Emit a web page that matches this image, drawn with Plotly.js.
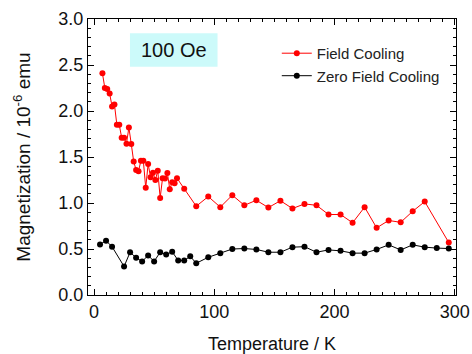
<!DOCTYPE html>
<html>
<head>
<meta charset="utf-8">
<script src="https://cdn.plot.ly/plotly-3.0.1.min.js"></script>
<style>html,body{margin:0;padding:0;background:#fff;}#chart{width:472px;height:354px;}</style>
</head>
<body>
<div id="chart"></div>
<script>
// Field Cooling (FC) data
const fcTemp = [7, 9, 11, 13, 15, 17, 19, 21, 23, 25, 27, 29, 31, 33, 35, 37, 39, 41, 43, 45,
  47, 49, 51, 53, 55, 57, 59, 61, 63, 65, 67, 69, 75, 85, 95, 105, 115, 125, 135, 145,
  155, 165, 175, 185, 195, 205, 215, 225, 235, 245, 255, 265, 275, 295];
const fcMag = [2.41, 2.25, 2.24, 2.19, 2.05, 2.07, 1.85, 1.85, 1.71, 1.71, 1.645, 1.82, 1.64, 1.45, 1.36, 1.345, 1.46, 1.46, 1.165, 1.425,
  1.28, 1.33, 1.25, 1.35, 1.055, 1.27, 1.265, 1.325, 1.15, 1.225, 1.215, 1.27, 1.155, 0.965, 1.07, 0.955, 1.085, 0.975, 1.03, 0.95,
  1.025, 0.94, 0.99, 0.975, 0.875, 0.875, 0.785, 0.955, 0.73, 0.81, 0.79, 0.91, 1.015, 0.57];
// Zero Field Cooling (ZFC) data
const zfcTemp = [5, 10, 15, 25, 30, 35, 40, 45, 50, 55, 60, 65, 70, 75, 80, 85, 95, 105, 115, 125,
  135, 145, 155, 165, 175, 185, 195, 205, 215, 225, 235, 245, 255, 265, 275, 285, 295];
const zfcMag = [0.55, 0.59, 0.525, 0.31, 0.465, 0.405, 0.365, 0.43, 0.365, 0.465, 0.44, 0.47, 0.375, 0.375, 0.42, 0.345, 0.41, 0.455, 0.5, 0.505,
  0.495, 0.465, 0.465, 0.52, 0.525, 0.465, 0.49, 0.48, 0.455, 0.455, 0.495, 0.545, 0.49, 0.545, 0.52, 0.51, 0.505];
const seriesNames = ["Field Cooling", "Zero Field Cooling"];
const fieldLabel = "100 Oe";
const xTickVals = [0, 100, 200, 300];
const yTickVals = [0, 0.5, 1.0, 1.5, 2.0, 2.5, 3.0];

const FONT = "Liberation Sans, Arial, Helvetica, sans-serif";

const traces = [
  {
    x: fcTemp, y: fcMag, name: seriesNames[0], type: "scatter", mode: "lines+markers",
    line: {color: "#ff0000", width: 1},
    marker: {color: "#ff0000", size: 6}
  },
  {
    x: zfcTemp, y: zfcMag, name: seriesNames[1], type: "scatter", mode: "lines+markers",
    line: {color: "#000000", width: 1},
    marker: {color: "#000000", size: 6}
  }
];

const axisCommon = {
  showline: true, linecolor: "#000", linewidth: 1, mirror: "allticks",
  ticks: "inside", ticklen: 6, tickwidth: 1, tickcolor: "#000",
  showgrid: false, zeroline: false,
  tickfont: {family: FONT, size: 18, color: "#111"}
};

const layout = {
  width: 472, height: 354,
  margin: {l: 88, r: 16, t: 19, b: 59},
  paper_bgcolor: "#fff", plot_bgcolor: "#fff",
  showlegend: true,
  legend: {
    x: 0.513, y: 0.935, xanchor: "left", yanchor: "top",
    bgcolor: "rgba(0,0,0,0)", borderwidth: 0,
    font: {family: FONT, size: 15, color: "#222"},
    itemwidth: 30, tracegroupgap: 0
  },
  xaxis: Object.assign({}, axisCommon, {
    range: [-5, 301], tickvals: xTickVals, ticktext: xTickVals.map(String),
    minor: {dtick: 10, ticks: "inside", ticklen: 3, tickcolor: "#000", tickwidth: 1},
    title: {text: "Temperature / K", font: {family: FONT, size: 18, color: "#111"}, standoff: 30}
  }),
  yaxis: Object.assign({}, axisCommon, {
    range: [0, 3.0], tickvals: yTickVals, ticktext: yTickVals.map(v => v.toFixed(1)),
    minor: {dtick: 0.1, ticks: "inside", ticklen: 3, tickcolor: "#000", tickwidth: 1},
    title: {text: "Magnetization / 10<sup>-6</sup> emu", font: {family: FONT, size: 19, color: "#111"}, standoff: 22}
  }),
  shapes: [{
    type: "rect", xref: "paper", yref: "paper",
    x0: 0.114, x1: 0.352, y0: 0.827, y1: 0.948,
    fillcolor: "#ccfafa", line: {width: 0}, layer: "below"
  }],
  annotations: [{
    xref: "paper", yref: "paper", x: 0.233, y: 0.888, xanchor: "center", yanchor: "middle",
    text: fieldLabel, showarrow: false,
    font: {family: FONT, size: 20, color: "#111"}
  }]
};

Plotly.newPlot("chart", traces, layout, {displayModeBar: false, staticPlot: true});
</script>
</body>
</html>
